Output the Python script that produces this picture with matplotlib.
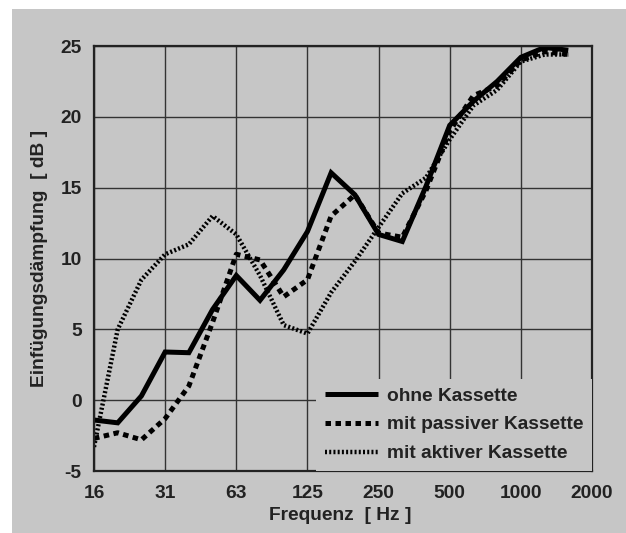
import numpy as np
import matplotlib
matplotlib.use("Agg")
import matplotlib.pyplot as plt
from matplotlib.patches import Rectangle

# Terzbaender 16 Hz ... 1600 Hz
baender = ["16", "20", "25", "31.5", "40", "50", "63", "80", "100", "125",
           "160", "200", "250", "315", "400", "500", "630", "800", "1000",
           "1250", "1600"]

ohne = [-1.4, -1.6, 0.3, 3.4, 3.35, 6.4, 8.8, 7.05, 9.2, 11.9, 16.05, 14.5,
        11.7, 11.2, 15.1, 19.4, 21.1, 22.5, 24.2, 24.9, 24.7]
passiv = [-2.7, -2.3, -2.8, -1.3, 1.0, 5.5, 10.3, 9.9, 7.3, 8.5, 13.0, 14.5,
          11.8, 11.5, 14.8, 19.0, 21.5, 22.2, 24.0, 24.6, 24.4]
aktiv = [-3.3, 5.0, 8.5, 10.3, 11.0, 13.0, 11.7, 8.8, 5.3, 4.7, 7.6, 9.8,
         12.2, 14.6, 15.7, 18.4, 20.8, 21.9, 23.9, 24.4, 24.4]

oktav_labels = ["16", "31", "63", "125", "250", "500", "1000", "2000"]
y_ticks = [-5, 0, 5, 10, 15, 20, 25]

grau = "#c6c6c6"
text_farbe = "#222222"
fs = 13.8

plt.rcParams["font.family"] = ["Liberation Sans", "DejaVu Sans"]
plt.rcParams["font.weight"] = "bold"
plt.rcParams["axes.unicode_minus"] = False

fig = plt.figure(figsize=(6.26, 5.33), dpi=100, facecolor="white")
fig.patches.append(Rectangle((12 / 626, 0), 1, 1 - 9 / 533,
                             transform=fig.transFigure, facecolor=grau,
                             edgecolor="none", zorder=-10))

ax = fig.add_axes([94 / 626, 1 - 471 / 533, 498 / 626, 425 / 533])
ax.set_facecolor(grau)

x = np.arange(len(baender))
ax.plot(x, ohne, color="black", lw=3.6, solid_capstyle="butt",
        solid_joinstyle="miter", label="ohne Kassette")
ax.plot(x, passiv, color="black", lw=3.6, dashes=(1.1, 0.9),
        dash_capstyle="butt", label="mit passiver Kassette")
ax.plot(x, aktiv, color="black", lw=3.2, dashes=(0.45, 0.5),
        dash_capstyle="butt", label="mit aktiver Kassette")

ax.set_xlim(0, 21)
ax.set_ylim(-5, 25)
ax.set_xticks(np.arange(0, 22, 3))
ax.set_xticklabels(oktav_labels)
ax.set_yticks(y_ticks)
ax.tick_params(length=0, labelsize=fs, colors=text_farbe)
ax.tick_params(axis="y", pad=9)
ax.tick_params(axis="x", pad=10)
ax.grid(True, color="#333333", lw=1.0)
ax.set_axisbelow(True)
for s in ax.spines.values():
    s.set_color("#222222")
    s.set_linewidth(1.6)

leg = ax.legend(loc="lower right", fontsize=fs, handlelength=2.8,
                handletextpad=0.45, labelspacing=0.6, borderaxespad=0.0,
                borderpad=0.45, frameon=True, fancybox=False)
leg.get_frame().set_facecolor(grau)
leg.get_frame().set_edgecolor("none")
leg.get_frame().set_alpha(1)
for t in leg.get_texts():
    t.set_color(text_farbe)

fig.text(340 / 626, 1 - 516 / 533, "Frequenz  [ Hz ]", ha="center",
         va="center", fontsize=fs, color=text_farbe)
fig.text(40 / 626, 1 - 258 / 533, "Einfügungsdämpfung  [ dB ]",
         rotation=90, ha="center", va="center", fontsize=fs,
         color=text_farbe)

fig.savefig("out.png", dpi=100, facecolor=fig.get_facecolor())
